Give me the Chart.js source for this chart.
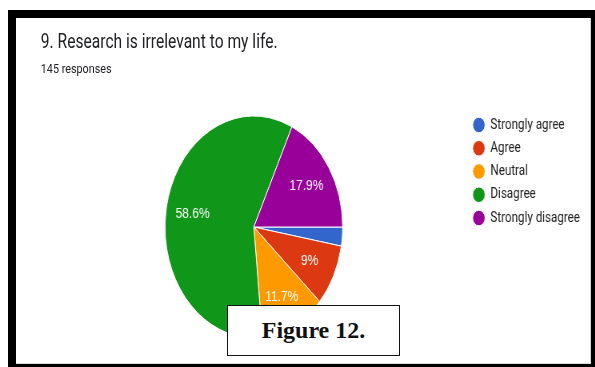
<html>
<head>
  <meta charset="utf-8"/>
  <title>9. Research is irrelevant to my life.</title>
  <script src="https://cdn.jsdelivr.net/npm/chart.js"></script>
  <style>
    body { margin: 0; background: #fff; font-family: Roboto, sans-serif; }
    .frame {
      position: absolute; left: 8px; top: 10px; width: 587px; height: 357px;
      background: #000;
    }
    .inner {
      position: absolute; left: 16px; top: 18px; width: 575px; height: 346px;
      background: #fff; overflow: hidden; box-sizing: border-box;
      border-right: 1px solid #d6d6d6; border-bottom: 1px solid #d6d6d6;
    }
    /* the form card is drawn wide and squeezed horizontally */
    .sheet {
      position: absolute; left: 0; top: 0; width: 760px; height: 346px;
      transform: scaleX(0.8); transform-origin: 0 0;
    }
    .title {
      position: absolute; left: 31px; top: 12px; font-size: 19.5px; color: #202124; white-space: nowrap;
    }
    .sub {
      position: absolute; left: 31px; top: 42px; font-size: 13.5px; color: #202124; white-space: nowrap;
    }
    #pie { position: absolute; left: 0; top: 0; }
    .fig {
      position: absolute; left: 227px; top: 305px; width: 173px; height: 51px;
      box-sizing: border-box; border: 1.5px solid #111; background: #fff;
      font-family: "Liberation Serif", serif; font-weight: bold; font-size: 24px;
      text-align: center; line-height: 48px; color: #111;
    }
  </style>
</head>
<body>
  <div class="frame"></div>
  <div class="inner">
    <div class="sheet">
      <div class="title">9. Research is irrelevant to my life.</div>
      <div class="sub">145 responses</div>
      <canvas id="pie" width="760" height="346"></canvas>
    </div>
  </div>
  <div class="fig">Figure 12.</div>

  <script>
    const categories = ['Strongly agree', 'Agree', 'Neutral', 'Disagree', 'Strongly disagree'];
    const responses = [4, 13, 17, 85, 26];
    const colors = ['#3366cc', '#dc3912', '#ff9900', '#109618', '#990099'];

    const total = responses.reduce((a, b) => a + b, 0);

    function pctText(v) {
      const p = (v / total * 100).toFixed(1);
      return (p.endsWith('.0') ? p.slice(0, -2) : p) + '%';
    }

    // percentage text inside every slice big enough to hold it
    const sliceLabels = {
      id: 'sliceLabels',
      afterDatasetsDraw(chart) {
        const ctx = chart.ctx;
        const meta = chart.getDatasetMeta(0);
        ctx.save();
        ctx.font = '15px Arial';
        ctx.fillStyle = '#fff';
        ctx.textAlign = 'center';
        ctx.textBaseline = 'middle';
        meta.data.forEach((arc, i) => {
          if (responses[i] / total < 0.05) return;
          const p = arc.getProps(['x', 'y', 'startAngle', 'endAngle', 'outerRadius'], true);
          const mid = (p.startAngle + p.endAngle) / 2;
          const r = p.outerRadius * 0.7;
          ctx.fillText(pctText(responses[i]), p.x + Math.cos(mid) * r, p.y + Math.sin(mid) * r);
        });
        ctx.restore();
      }
    };

    new Chart(document.getElementById('pie').getContext('2d'), {
      type: 'pie',
      data: {
        labels: categories,
        datasets: [{
          data: responses,
          backgroundColor: colors,
          borderColor: '#fff',
          borderWidth: 1
        }]
      },
      options: {
        responsive: false,
        animation: false,
        radius: 111,
        rotation: 90,
        layout: { padding: { top: 91, bottom: 19, left: 32, right: 45 } },
        plugins: {
          legend: {
            position: 'right',
            align: 'start',
            labels: {
              usePointStyle: true,
              pointStyle: 'circle',
              boxHeight: 11,
              padding: 8.75,
              color: '#222',
              font: { family: 'Roboto', size: 14.5 }
            }
          },
          tooltip: { enabled: false }
        }
      },
      plugins: [sliceLabels]
    });
  </script>
</body>
</html>
